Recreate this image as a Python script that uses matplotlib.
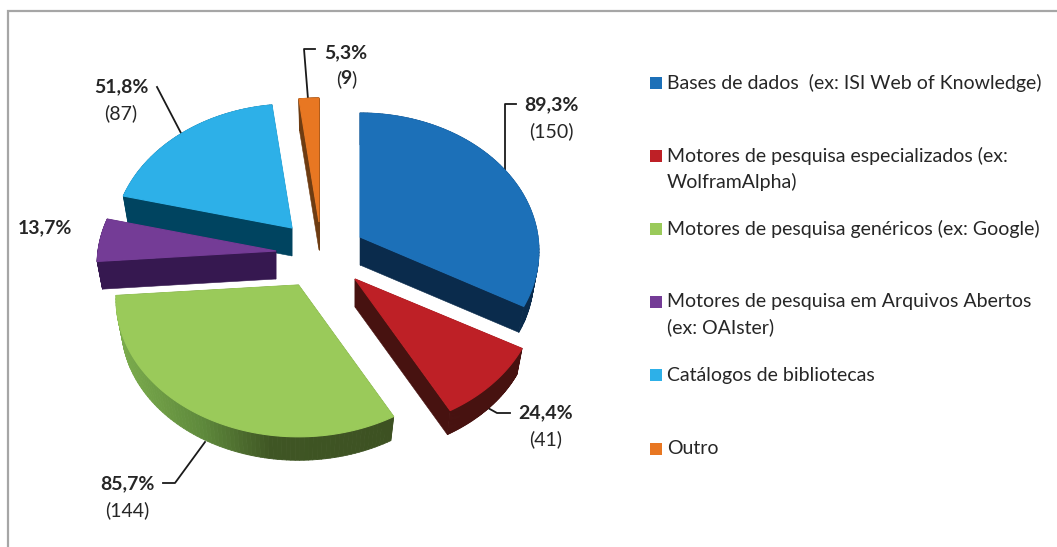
import numpy as np
import matplotlib
matplotlib.use("Agg")
import matplotlib.pyplot as plt
from matplotlib.collections import PolyCollection
from matplotlib.patches import Rectangle, Polygon
from matplotlib.colors import to_rgb

plt.rcParams['font.family'] = ['Lato', 'DejaVu Sans']

# ---- data ----
categories = ["Bases de dados  (ex: ISI Web of Knowledge)",
              "Motores de pesquisa especializados (ex:\nWolframAlpha)",
              "Motores de pesquisa genéricos (ex: Google)",
              "Motores de pesquisa em Arquivos Abertos\n(ex: OAIster)",
              "Catálogos de bibliotecas",
              "Outro"]
counts = [150, 41, 144, 23, 87, 9]
pct_labels = ["89,3%", "24,4%", "85,7%", "13,7%", "51,8%", "5,3%"]
count_labels = ["(150)", "(41)", "(144)", "", "(87)", ""]

# ---- style ----
top_colors = ["#1c70b8", "#be2026", "#9aca5a", "#743c96", "#2db0e8", "#e87722"]
side_colors = ["#0a2b4c", "#471210", "#3d5122", "#361850", "#004460", "#6e3c12"]
apexes = [(360, 237), (355, 279), (298.5, 285), (276, 251), (292, 228), (319, 222)]
x_scale = [1.0, 1.02, 1.02, 1.0, 1.0, 1.0]
draw_order = [5, 4, 3, 0, 1, 2]
label_xy = [(551, 105), (546, 413), (127, 484), (45, 228), (121, 87), (346, 53)]
leaders = [[(505, 171), (505, 104), (516, 104)],
           [(488, 408), (497, 413), (510, 413)],
           [(205, 442), (175, 483), (163, 483)],
           [],
           [(182, 135), (157, 87)],
           [(308, 99), (304, 49), (315, 49)]]
legend_y = [83, 156, 229, 302, 375, 449]

RX, KY, Q = 178.0, 136.5, 0.101
DEPTH, SHRINK = 28.0, 0.97
TEXT = "#262626"

fig = plt.figure(figsize=(10.57, 5.47), dpi=100)
ax = fig.add_axes([0, 0, 1, 1])
ax.set_xlim(0, 1057)
ax.set_ylim(547, 0)
ax.axis("off")

# chart frame
ax.plot([8, 8, 1057], [547, 11, 11], color="#a6a6a6", lw=1.6, solid_joinstyle="miter")


def rim(t0, t1):
    t = np.radians(np.linspace(t0, t1, 90))
    u, v = np.sin(t), -np.cos(t)
    s = 1 / (1 - Q * v)
    return RX * u * s, KY * v * s


def green_side(x):
    stops_x = [120, 200, 270, 400]
    stops = np.array([to_rgb(c) for c in ["#7aab4c", "#5f8a3c", "#3f5624", "#3d5122"]])
    return [np.interp(x, stops_x, stops[:, i]) for i in range(3)]


total = sum(counts)
edges = np.concatenate([[0], np.cumsum(counts)]) / total * 360

for i in draw_order:
    ax_, ay = apexes[i]
    dx, dy = rim(edges[i], edges[i + 1])
    dx = dx * x_scale[i]
    tx, ty = ax_ + dx, ay + dy
    bx, by = ax_ + dx * SHRINK, ay + DEPTH + dy * SHRINK
    quads, cols = [], []
    for j in range(len(tx) - 1):
        quads.append([(tx[j], ty[j]), (tx[j + 1], ty[j + 1]),
                      (bx[j + 1], by[j + 1]), (bx[j], by[j])])
        xm = (tx[j] + tx[j + 1]) / 2
        cols.append(green_side(xm) if i == 2 else to_rgb(side_colors[i]))
    z = 2 + draw_order.index(i)
    ax.add_collection(PolyCollection(quads, facecolors=cols, edgecolors=cols, linewidths=0.6, zorder=z))
    for k in (0, -1):
        ax.add_patch(Polygon([(ax_, ay), (tx[k], ty[k]), (bx[k], by[k]), (ax_, ay + DEPTH)],
                             fc=side_colors[i], ec=side_colors[i], lw=0.4, zorder=z))
    ax.add_patch(Polygon(np.column_stack([np.r_[ax_, tx], np.r_[ay, ty]]),
                         fc=top_colors[i], ec=top_colors[i], lw=0.8, zorder=z + 0.5))

# leader lines and value labels
FS = 14.0
for i, pts in enumerate(leaders):
    if pts:
        xs, ys = zip(*pts)
        ax.plot(xs, ys, color="#1a1a1a", lw=1.3, zorder=1.5)
    lx, ly = label_xy[i]
    ax.text(lx, ly, pct_labels[i], ha="center", va="center", fontsize=FS, fontweight="bold", color=TEXT)
    if count_labels[i]:
        ax.text(lx, ly + 26, count_labels[i], ha="center", va="center", fontsize=FS, color=TEXT)

# orange count: bold number inside regular parentheses
ox, oy = label_xy[5][0], label_xy[5][1] + 26
ax.text(ox - 5, oy, "(", ha="right", va="center", fontsize=FS, color=TEXT)
ax.text(ox, oy, str(counts[5]), ha="center", va="center", fontsize=FS, fontweight="bold", color=TEXT)
ax.text(ox + 5, oy, ")", ha="left", va="center", fontsize=FS, color=TEXT)

# legend
for c, y, col in zip(categories, legend_y, top_colors):
    ax.add_patch(Rectangle((650, y - 6), 12, 12, fc=col, ec="none"))
    lines = c.split("\n")
    for n, line in enumerate(lines):
        ax.text(667, y + n * 25.5, line, ha="left", va="center", fontsize=FS, color=TEXT)

fig.savefig("out.png", dpi=100)
